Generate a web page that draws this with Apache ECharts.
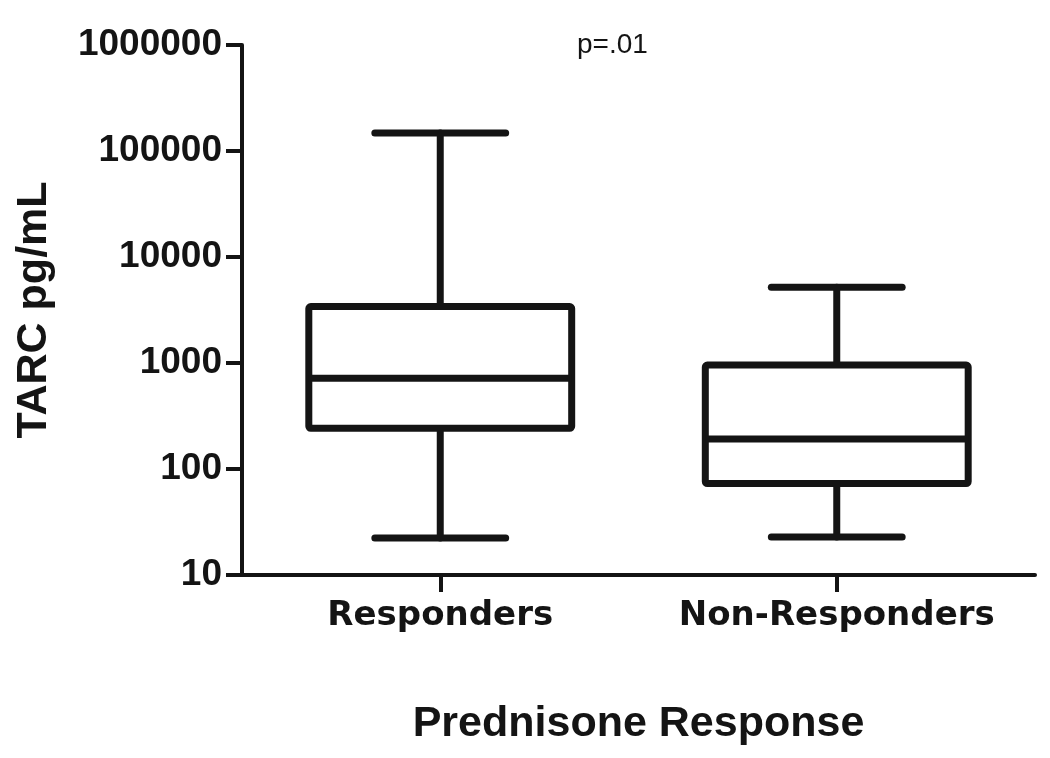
<!DOCTYPE html>
<html>
<head>
<meta charset="utf-8">
<script src="https://cdn.jsdelivr.net/npm/echarts@6/dist/echarts.min.js"></script>
<style>html,body{margin:0;padding:0;background:#fff;}#main{width:1050px;height:758px;}</style>
</head>
<body>
<div id="main"></div>
<script>
// Data (TARC pg/mL, log scale)
const categories = ['Responders', 'Non-Responders'];
const whiskerLow  = [22.3, 22.8];
const q1          = [242, 73];
const median      = [718, 192];
const q3          = [3410, 957];
const whiskerHigh = [148000, 5180];
const yTickLabels = ['10', '100', '1000', '10000', '100000', '1000000'];
const annotation = 'p=.01';

const INK = '#141414';
const boxData = categories.map((c, i) => [i, whiskerLow[i], q1[i], median[i], q3[i], whiskerHigh[i]]);

const chart = echarts.init(document.getElementById('main'), null, {renderer: 'canvas'});

function renderBox(params, api) {
  const idx = api.value(0);
  const band = api.size([1, 0])[0];
  const bw = band * 0.663;
  const cw = band * 0.33;
  const pLow = api.coord([idx, api.value(1)]);
  const pQ1 = api.coord([idx, api.value(2)]);
  const pMed = api.coord([idx, api.value(3)]);
  const pQ3 = api.coord([idx, api.value(4)]);
  const pHigh = api.coord([idx, api.value(5)]);
  const cx = pMed[0];
  const st = {stroke: INK, lineWidth: 7, fill: null, lineCap: 'round', lineJoin: 'round'};
  return {
    type: 'group',
    children: [
      {type: 'line', shape: {x1: cx, y1: pHigh[1], x2: cx, y2: pQ3[1]}, style: st},
      {type: 'line', shape: {x1: cx, y1: pQ1[1], x2: cx, y2: pLow[1]}, style: st},
      {type: 'line', shape: {x1: cx - cw / 2, y1: pHigh[1], x2: cx + cw / 2, y2: pHigh[1]}, style: st},
      {type: 'line', shape: {x1: cx - cw / 2, y1: pLow[1], x2: cx + cw / 2, y2: pLow[1]}, style: st},
      {type: 'rect', shape: {x: cx - bw / 2, y: pQ3[1], width: bw, height: pQ1[1] - pQ3[1], r: 2},
        style: {stroke: INK, lineWidth: 7, fill: '#fff', lineJoin: 'round'}},
      {type: 'line', shape: {x1: cx - bw / 2, y1: pMed[1], x2: cx + bw / 2, y2: pMed[1]}, style: Object.assign({}, st, {lineCap: 'butt'})}
    ]
  };
}

const option = {
  backgroundColor: '#ffffff',
  animation: false,
  grid: {left: 242, right: 15, top: 45, bottom: 183, containLabel: false},
  xAxis: {
    type: 'category',
    data: categories,
    boundaryGap: true,
    name: 'Prednisone Response',
    nameLocation: 'middle',
    nameGap: 128,
    nameTextStyle: {fontFamily: 'Liberation Sans', fontWeight: 'bold', fontSize: 43, color: INK},
    axisLine: {show: true, lineStyle: {color: INK, width: 4}},
    axisTick: {show: true, alignWithLabel: true, length: 17, lineStyle: {color: INK, width: 4}},
    axisLabel: {fontFamily: 'DejaVu Sans', fontWeight: 'bold', fontSize: 34, color: INK, margin: 24, interval: 0},
    splitLine: {show: false}
  },
  yAxis: {
    type: 'log',
    logBase: 10,
    min: 10,
    max: 1000000,
    name: 'TARC pg/mL',
    nameLocation: 'middle',
    nameGap: 186,
    nameRotate: 90,
    nameTextStyle: {fontFamily: 'Liberation Sans', fontWeight: 'bold', fontSize: 43, color: INK},
    axisLine: {show: true, onZero: false, lineStyle: {color: INK, width: 4}},
    axisTick: {show: true, length: 16, lineStyle: {color: INK, width: 4}},
    axisLabel: {
      fontFamily: 'Liberation Sans', fontWeight: 'bold', fontSize: 37, color: INK, margin: 20,
      formatter: function (v) {
        const k = Math.round(Math.log10(v)) - 1;
        return yTickLabels[k] !== undefined ? yTickLabels[k] : String(Math.round(v));
      }
    },
    splitLine: {show: false},
    minorTick: {show: false}
  },
  graphic: [{
    type: 'text',
    left: 577,
    top: 31,
    style: {text: annotation, fontFamily: 'Liberation Sans', fontSize: 28, fill: INK}
  }],
  series: [{
    type: 'custom',
    renderItem: renderBox,
    encode: {x: 0, y: [1, 2, 3, 4, 5]},
    data: boxData,
    clip: false
  }]
};
chart.setOption(option);
</script>
</body>
</html>
